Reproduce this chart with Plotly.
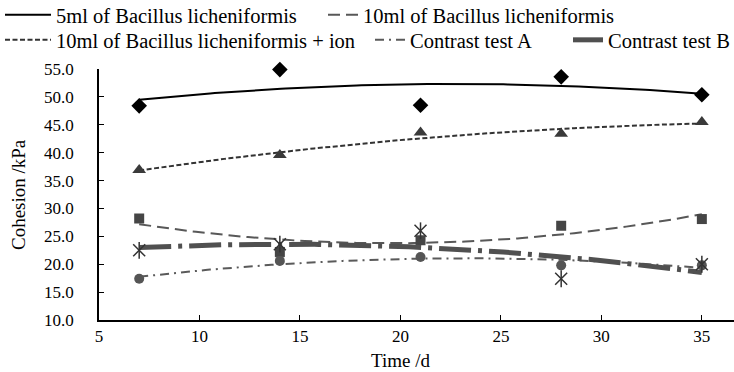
import numpy as np
import plotly.graph_objects as go

# Sampling days
days = [7, 14, 21, 28, 35]

# Cohesion (kPa) for each treatment
bl_5ml = [48.4, 54.9, 48.5, 53.6, 50.4]
bl_10ml = [28.2, 22.2, 24.3, 26.9, 28.1]
bl_10ml_ion = [36.9, 39.6, 43.6, 43.4, 45.5]
contrast_a = [17.4, 20.6, 21.3, 19.8, 19.8]
contrast_b = [22.5, 23.6, 26.0, 17.4, 20.0]

x_ticks = [5, 10, 15, 20, 25, 30, 35]
y_ticks = [10, 15, 20, 25, 30, 35, 40, 45, 50, 55]

FONT = "Liberation Serif"
W, H = 734, 372
ML, MR, MT, MB = 99, 0, 65, 52
Y_RANGE = [10, 55]

fig = go.Figure()

def trend(vals):
    # second-order polynomial trendline over the sampled period
    xs = np.linspace(days[0], days[-1], 120)
    c = np.polyfit(days, vals, 2)
    return xs, np.polyval(c, xs)

series = [
    # name, values, line colour, width, dash, marker symbol, marker colour, size, legend id
    ("5ml of Bacillus licheniformis", bl_5ml, "#000000", 2, "solid", "diamond", "#000000", 12, "legend"),
    ("10ml of Bacillus licheniformis", bl_10ml, "#585858", 2, "12px,6px", "square", "#454545", 10, "legend2"),
    ("10ml of Bacillus licheniformis + ion", bl_10ml_ion, "#333333", 2, "5px,2.5px", "triangle-up", "#3a3a3a", 12, "legend3"),
    ("Contrast test A", contrast_a, "#5a5a5a", 2, "9px,5px,2px,5px", "circle", "#555555", 10, "legend4"),
    ("Contrast test B", contrast_b, "#505050", 5, "32px,7px,4px,7px", None, "#333333", 12, "legend5"),
]

for name, vals, lc, lw, dash, sym, mc, ms, lg in series:
    xs, ys = trend(vals)
    fig.add_trace(go.Scatter(
        x=xs, y=ys, mode="lines", name=name, legend=lg,
        line=dict(color=lc, width=lw, dash=dash),
    ))
    if sym is None:
        # six-spoke star: a thin cross plus a vertical stroke
        for s in ("x-thin-open", "line-ns-open"):
            fig.add_trace(go.Scatter(
                x=days, y=vals, mode="markers", showlegend=False,
                marker=dict(symbol=s, size=ms, color=mc, line=dict(color=mc, width=1.5)),
                cliponaxis=False,
            ))
    else:
        fig.add_trace(go.Scatter(
            x=days, y=vals, mode="markers", showlegend=False,
            marker=dict(symbol=sym, size=ms, color=mc, line=dict(width=0)),
            cliponaxis=False,
        ))

# empty trace so the overlaid tick-mark axis is drawn
fig.add_trace(go.Scatter(x=[None], y=[None], yaxis="y2", showlegend=False,
                         hoverinfo="skip"))

def legend_box(px, py, iw=30):
    return dict(
        xref="container", yref="container",
        x=px / W, y=1 - py / H, xanchor="left", yanchor="middle",
        orientation="h", bgcolor="rgba(0,0,0,0)", borderwidth=0,
        font=dict(family=FONT, size=20.5, color="#000000"),
        itemwidth=iw, tracegroupgap=0,
    )

tick_font = dict(family=FONT, size=17, color="#000000")

fig.update_layout(
    width=W, height=H,
    margin=dict(l=ML, r=MR, t=MT, b=MB),
    paper_bgcolor="white", plot_bgcolor="white",
    font=dict(family=FONT, size=16, color="#000000"),
    legend=legend_box(0, 15, 46),
    legend2=legend_box(323, 15),
    legend3=legend_box(0, 40, 46),
    legend4=legend_box(370, 40),
    legend5=legend_box(568, 40),
    xaxis=dict(
        range=[5, 36.6], tickvals=x_ticks, ticks="inside", ticklen=5,
        tickcolor="#000", showline=True, linecolor="#000", linewidth=1.5,
        showgrid=False, zeroline=False, tickfont=tick_font,
    ),
    # labelled axis: transparent outward ticks push the labels off the line
    yaxis=dict(
        range=Y_RANGE, tickvals=y_ticks, tickformat=".1f", ticks="outside",
        ticklen=20, tickcolor="rgba(0,0,0,0)", showline=True, linecolor="#000",
        linewidth=1.5, showgrid=False, zeroline=False, tickfont=tick_font,
    ),
    # overlaid axis carrying the inward tick marks
    yaxis2=dict(
        range=Y_RANGE, overlaying="y", side="left", tickvals=y_ticks,
        ticks="inside", ticklen=5, tickcolor="#000", showticklabels=False,
        showline=False, showgrid=False, zeroline=False,
    ),
    annotations=[
        dict(text="Time /d", xref="paper", yref="paper",
             x=(400 - ML) / (W - ML - MR), y=-(361 - (H - MB)) / (H - MT - MB),
             xanchor="center", yanchor="middle", showarrow=False,
             font=dict(family=FONT, size=19)),
        dict(text="Cohesion /kPa", xref="paper", yref="paper",
             x=-(ML - 18) / (W - ML - MR), y=(H - MB - 192) / (H - MT - MB),
             xanchor="center", yanchor="middle", textangle=-90, showarrow=False,
             font=dict(family=FONT, size=19)),
    ],
)

fig.write_html("out.html")
